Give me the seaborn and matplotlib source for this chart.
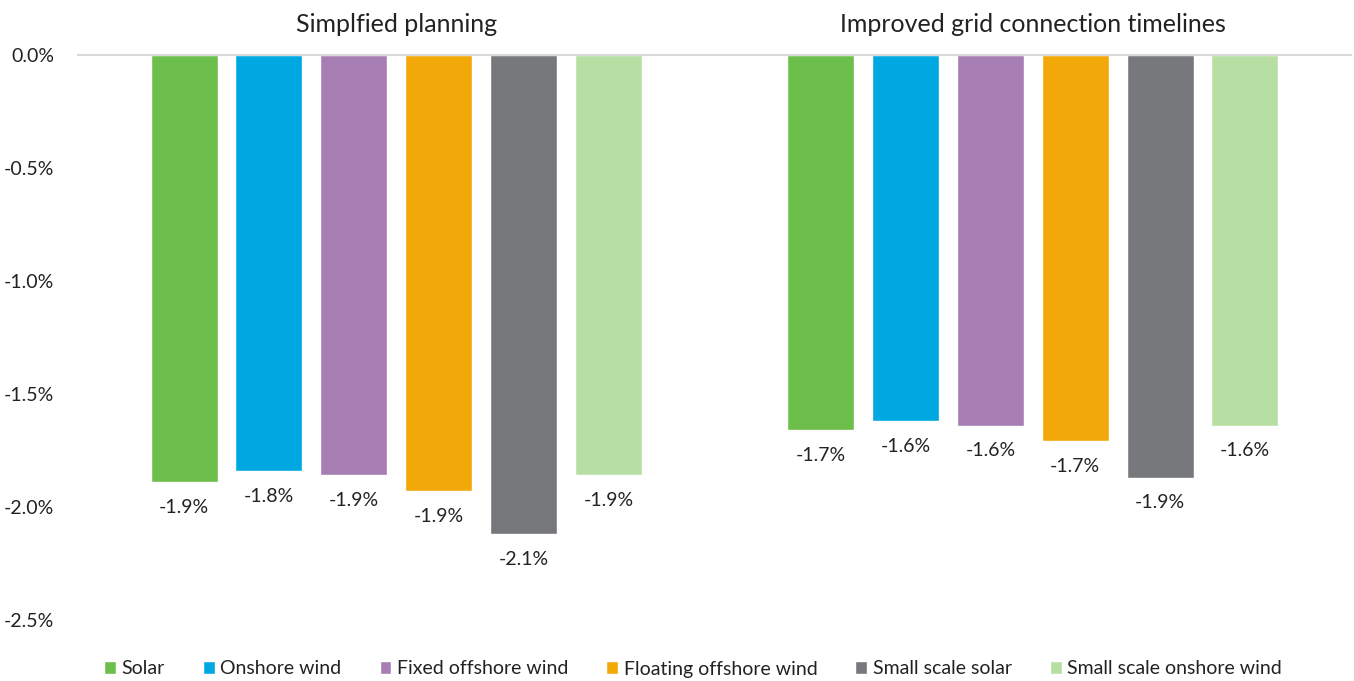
import matplotlib
matplotlib.use("Agg")
import matplotlib.pyplot as plt
import seaborn as sns
import pandas as pd

scenarios = ["Simplfied planning", "Improved grid connection timelines"]
technologies = ["Solar", "Onshore wind", "Fixed offshore wind",
                "Floating offshore wind", "Small scale solar", "Small scale onshore wind"]
simplified_planning = [-1.89, -1.84, -1.86, -1.93, -2.12, -1.86]
grid_connection = [-1.66, -1.62, -1.64, -1.71, -1.87, -1.64]
colors = ["#6CBF4B", "#00A8E1", "#A67EB3", "#F2A808", "#77787C", "#B8DFA3"]
y_ticks = [0.0, -0.5, -1.0, -1.5, -2.0, -2.5]

rows = []
for scen, vals in zip(scenarios, [simplified_planning, grid_connection]):
    for tech, v in zip(technologies, vals):
        rows.append({"scenario": scen, "technology": tech, "value": v})
df = pd.DataFrame(rows)

sns.set_theme(style="white")
plt.rcParams["font.family"] = ["Lato", "DejaVu Sans"]

fig = plt.figure(figsize=(13.54, 6.81), dpi=100)
ax = fig.add_axes([78 / 1354, 1 - 620 / 681, (1351 - 78) / 1354, (620 - 55) / 681])

sns.barplot(data=df, x="scenario", y="value", hue="technology",
            hue_order=technologies, order=scenarios, palette=colors,
            width=0.8, gap=0.21, ax=ax, legend=True, saturation=1)

for cont in ax.containers:
    ax.bar_label(cont, fmt=lambda v: f"{v:.1f}%", padding=12, fontsize=14, color="#222222")

ax.set_ylim(-2.5, 0)
ax.set_yticks(y_ticks)
ax.set_yticklabels([f"{t:.1f}%" for t in y_ticks], fontsize=14, color="#222222")
ax.tick_params(axis="y", length=0, pad=17)
ax.xaxis.tick_top()
ax.tick_params(axis="x", length=0, pad=14, labelsize=18, labelcolor="#222222")
ax.set_xlabel("")
ax.set_ylabel("")
for side in ["left", "right", "bottom"]:
    ax.spines[side].set_visible(False)
ax.spines["top"].set_color("#D9D9D9")
ax.spines["top"].set_linewidth(1.5)

handles, labels = ax.get_legend_handles_labels()
ax.legend_.remove()
fig.legend(handles, labels, loc="center", bbox_to_anchor=(0.512, 1 - 669 / 681),
           ncol=6, frameon=False, fontsize=14, handlelength=0.6, handleheight=0.6,
           handletextpad=0.3, columnspacing=1.95, labelcolor="#222222")

fig.savefig("out.png", dpi=100, facecolor="white")
